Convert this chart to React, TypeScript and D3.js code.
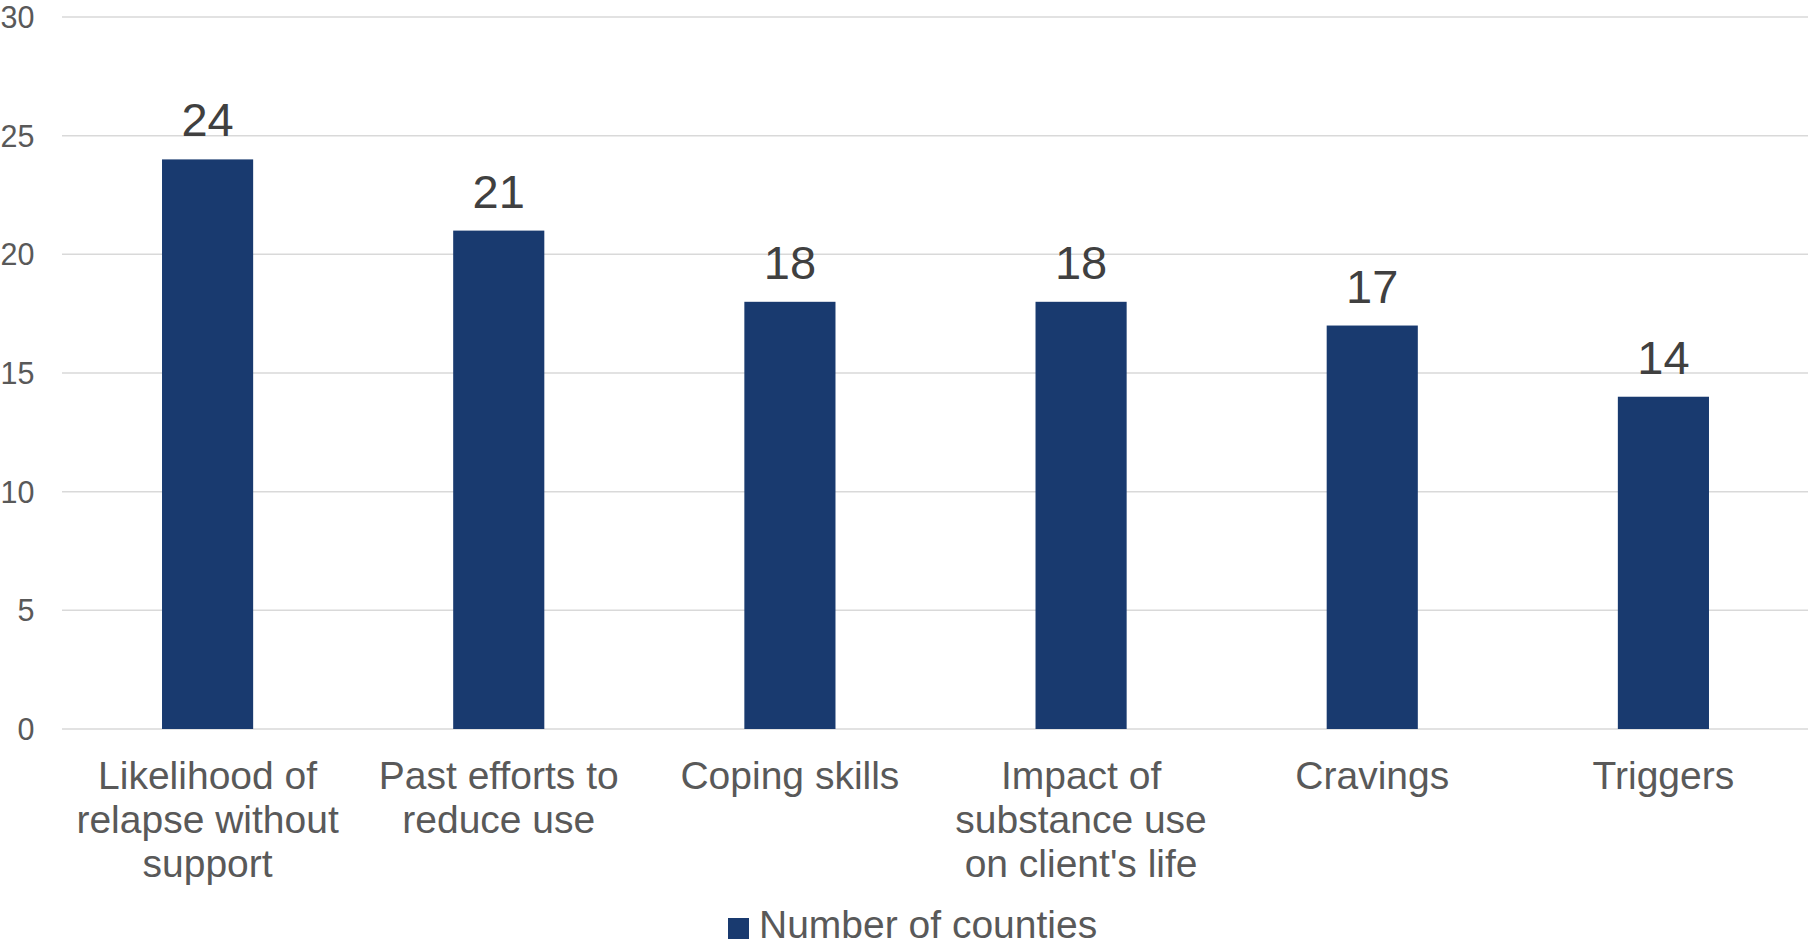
import React from "react";
import * as d3 from "d3";

const categories: string[][] = [
  ["Likelihood of", "relapse without", "support"],
  ["Past efforts to", "reduce use"],
  ["Coping skills"],
  ["Impact of", "substance use", "on client's life"],
  ["Cravings"],
  ["Triggers"],
];
const values: number[] = [24, 21, 18, 18, 17, 14];
const yTicks: number[] = [0, 5, 10, 15, 20, 25, 30];
const seriesName = "Number of counties";

const W = 1808;
const H = 947;
const FONT = "'Liberation Sans', Arial, sans-serif";
const BAR = "#193A6F";

export default function App() {
  const x = d3
    .scaleBand<number>()
    .domain(values.map((_, i) => i))
    .range([62, 1809])
    .padding(0);
  const y = d3.scaleLinear().domain([0, 30]).range([729, 17]);
  const barW = x.bandwidth() * 0.313;

  return (
    <svg
      width={W}
      height={H}
      style={{ position: "absolute", left: 0, top: 0, background: "#fff" }}
      fontFamily={FONT}
    >
      {yTicks.map((t) => (
        <g key={t}>
          <line
            x1={62}
            x2={W}
            y1={y(t)}
            y2={y(t)}
            stroke="#d9d9d9"
            strokeWidth={1.5}
          />
          <text
            x={34.5}
            y={y(t)}
            dy="0.36em"
            textAnchor="end"
            fontSize={30.5}
            fill="#595959"
          >
            {t}
          </text>
        </g>
      ))}
      {values.map((v, i) => {
        const cx = (x(i) as number) + x.bandwidth() / 2;
        return (
          <g key={i}>
            <rect
              x={cx - barW / 2}
              y={y(v)}
              width={barW}
              height={y(0) - y(v)}
              fill={BAR}
            />
            <text
              x={cx}
              y={y(v) - 23}
              textAnchor="middle"
              fontSize={47}
              fill="#404040"
            >
              {v}
            </text>
            {categories[i].map((line, j) => (
              <text
                key={j}
                x={cx}
                y={789 + j * 44}
                textAnchor="middle"
                fontSize={39}
                fill="#595959"
              >
                {line}
              </text>
            ))}
          </g>
        );
      })}
      <rect x={728} y={918} width={21} height={21} fill={BAR} />
      <text x={759} y={937.5} fontSize={39} fill="#595959">
        {seriesName}
      </text>
    </svg>
  );
}
